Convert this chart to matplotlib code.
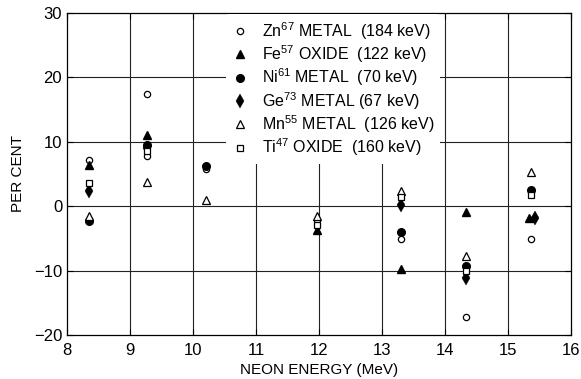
import numpy as np
import matplotlib
matplotlib.use('Agg')
import matplotlib.pyplot as plt

plt.rcParams['font.family'] = ['Liberation Sans', 'DejaVu Sans']
plt.rcParams['mathtext.fontset'] = 'custom'
plt.rcParams['mathtext.rm'] = 'Liberation Sans'
plt.rcParams['mathtext.it'] = 'Liberation Sans'

# neon beam energies (MeV) and percent deviations, one list per source
zn_e = [8.35, 9.27, 9.27, 10.2, 11.97, 13.3, 14.33, 15.37]
zn_v = [7.2, 17.4, 7.8, 5.8, -2.2, -5.1, -17.2, -5.1]

fe_e = [8.35, 9.27, 11.97, 13.3, 14.33, 15.33]
fe_v = [6.4, 11.0, -3.7, -9.8, -0.9, -1.8]

ni_e = [8.35, 9.27, 10.2, 13.3, 14.33, 15.37]
ni_v = [-2.3, 9.5, 6.3, -4.0, -9.3, 2.5]

ge_e = [8.35, 9.27, 13.3, 14.33, 15.43]
ge_v = [2.4, 9.0, 0.2, -11.2, -1.9]

mn_e = [8.35, 9.27, 10.2, 11.97, 13.3, 14.33, 15.37]
mn_v = [-1.5, 3.8, 1.0, -1.5, 2.4, -7.7, 5.3]

ti_e = [8.35, 9.27, 11.97, 13.3, 14.33, 15.37]
ti_v = [3.6, 8.6, -2.9, 1.5, -10.0, 1.8]

labels = [
    'Zn$^{67}$ METAL  (184 keV)',
    'Fe$^{57}$ OXIDE  (122 keV)',
    'Ni$^{61}$ METAL  (70 keV)',
    'Ge$^{73}$ METAL (67 keV)',
    'Mn$^{55}$ METAL  (126 keV)',
    'Ti$^{47}$ OXIDE  (160 keV)',
]

fig = plt.figure(figsize=(5.81, 3.79), dpi=100)
ax = fig.add_axes([0.1153, 0.116, 0.867, 0.85])

for x in range(9, 16):
    ax.axvline(x, color='#222222', lw=0.8, zorder=1)
for y in [-10, 0, 10, 20]:
    ax.axhline(y, color='#222222', lw=0.8, zorder=1)

ax.plot(zn_e, zn_v, 'o', ms=4.5, mfc='white', mec='black', mew=0.9, ls='none', zorder=3, label=labels[0])
ax.plot(fe_e, fe_v, '^', ms=6, color='black', ls='none', zorder=3, label=labels[1])
ax.plot(ni_e, ni_v, 'o', ms=5.5, color='black', ls='none', zorder=3, label=labels[2])
ax.plot(ge_e, ge_v, 'd', ms=7, color='black', mew=0.3, ls='none', zorder=3, label=labels[3])
ax.plot(mn_e, mn_v, '^', ms=5.5, mfc='white', mec='black', mew=0.9, ls='none', zorder=3, label=labels[4])
ax.plot(ti_e, ti_v, 's', ms=4.5, mfc='white', mec='black', mew=0.9, ls='none', zorder=3, label=labels[5])

leg = ax.legend(loc='upper left', bbox_to_anchor=(0.313, 1.0), frameon=True,
                fontsize=11.5, labelspacing=0.1, handletextpad=0.9,
                handlelength=1.0, borderpad=0.35, borderaxespad=0.1)
leg.get_frame().set_facecolor('white')
leg.get_frame().set_edgecolor('none')
leg.get_frame().set_alpha(1)
leg.set_zorder(5)

ax.set_xlim(8, 16)
ax.set_ylim(-20, 30)
ax.set_xticks(range(8, 17))
ax.set_yticks([-20, -10, 0, 10, 20, 30])
ax.tick_params(direction='in', top=True, right=True, length=4,
               labelsize=12, width=0.8)
ax.tick_params(axis='x', pad=6)
for s in ax.spines.values():
    s.set_linewidth(0.9)

ax.set_xlabel('NEON ENERGY (MeV)', fontsize=11, labelpad=3)
ax.set_ylabel('PER CENT', fontsize=11, labelpad=6)

fig.savefig('out.png', dpi=100)
